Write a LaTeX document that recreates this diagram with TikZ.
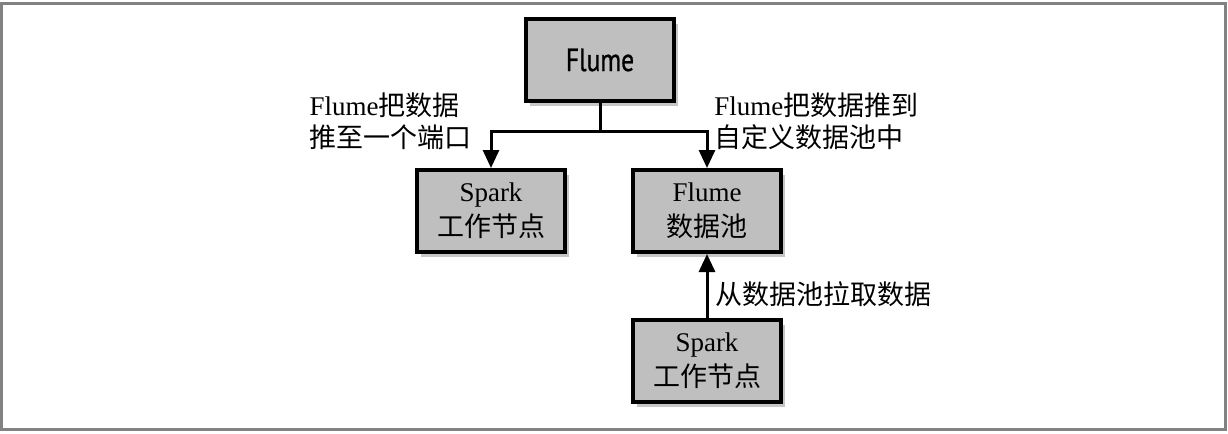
\documentclass[tikz,border=0pt]{standalone}
\usepackage{fontspec}
\setmainfont{Liberation Serif}
\newfontfamily\cjk{Noto Sans CJK SC}
\newfontfamily\headfont[FakeStretch=0.8,FakeBold=0.8]{PT Sans}
\newcommand{\zh}[1]{{\cjk #1}}
\usepackage{tikz}
\usetikzlibrary{arrows.meta,shadows,positioning,calc}
\definecolor{boxgray}{RGB}{191,191,191}
\definecolor{framegray}{RGB}{130,130,130}

\begin{document}
\begin{tikzpicture}[x=0.5pt,y=-0.5pt,
  box/.style={draw=black,line width=2pt,fill=boxgray,minimum width=74pt,minimum height=41pt,
    align=center,font=\fontsize{13.5}{17.5}\selectfont,
    drop shadow={shadow xshift=2pt,shadow yshift=-2.5pt,opacity=0.45}},
  lbl/.style={align=left,inner sep=0pt,font=\fontsize{13.5}{16}\selectfont},
  flow/.style={line width=1.5pt,-{Triangle[width=8pt,length=9pt]}}]
\useasboundingbox (0,0) rectangle (1228,434);
\draw[framegray,line width=1.5pt] (1,3) rectangle (1225,429);
% the nodes
\node[box,font=\headfont\fontsize{16}{19}\selectfont] (flume) at (600,60) {Flume};
\node[box] (spark1) at (491,211) {Spark\\\zh{工作节点}};
\node[box] (sink) at (707,211) {Flume\\\zh{数据池}};
\node[box] (spark2) at (707,361) {Spark\\\zh{工作节点}};
\coordinate (split) at (600,131);
% the connectors
\draw[line width=1.5pt] (flume) -- (split);
\draw[flow] (split) -| (spark1);
\draw[flow] (split) -| (sink);
\draw[flow] (spark2) -- (sink);
% the labels
\node[lbl,anchor=east] (pushport) at (472,121) {Flume\zh{把数据}\\\zh{推至一个端口}};
\node[lbl,anchor=west] (pushsink) at (714,121) {Flume\zh{把数据推到}\\\zh{自定义数据池中}};
\node[lbl,anchor=west] (pull) at (715,294) {\zh{从数据池拉取数据}};
\end{tikzpicture}
\end{document}
